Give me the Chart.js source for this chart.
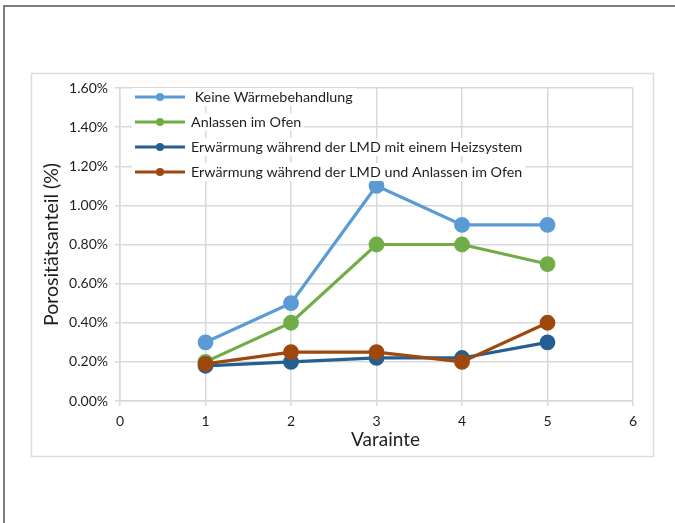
<!DOCTYPE html>
<html>
<head>
<meta charset="utf-8">
<script src="https://cdn.jsdelivr.net/npm/chart.js@4/dist/chart.umd.min.js"></script>
<style>
  html, body { margin: 0; padding: 0; background: #fff; }
  #wrap { position: absolute; left: 0; top: 0; width: 675px; height: 523px; }
</style>
</head>
<body>
<div id="wrap"><canvas id="porosityChart" width="675" height="523"></canvas></div>
<script>
// Porositätsanteil je Variante und Wärmebehandlung
const variants = [1, 2, 3, 4, 5];
const seriesNames = [
  ' Keine Wärmebehandlung',
  'Anlassen im Ofen',
  'Erwärmung während der LMD mit einem Heizsystem',
  'Erwärmung während der LMD und Anlassen im Ofen'
];
const seriesColors = ['#5B9BD5', '#70AD47', '#255E91', '#9E480E'];
const keineWaerme = [0.30, 0.50, 1.10, 0.90, 0.90];
const anlassenOfen = [0.20, 0.40, 0.80, 0.80, 0.70];
const lmdHeizsystem = [0.18, 0.20, 0.22, 0.22, 0.30];
const lmdAnlassen = [0.19, 0.25, 0.25, 0.20, 0.40];
const xMin = 0, xMax = 6, xStep = 1;
const yMin = 0, yMax = 1.6, yStep = 0.2;
const xTitle = 'Varainte';
const yTitle = 'Porositätsanteil (%)';

const FONT = 'Lato, "Noto Sans", sans-serif';
const GRID = '#d9d9d9';
const TEXT = '#1e1e1e';

const seriesValues = [keineWaerme, anlassenOfen, lmdHeizsystem, lmdAnlassen];

function makeDataset(i) {
  return {
    label: seriesNames[i],
    data: variants.map((v, k) => ({ x: v, y: seriesValues[i][k] })),
    borderColor: seriesColors[i],
    backgroundColor: seriesColors[i],
    pointBackgroundColor: seriesColors[i],
    pointBorderColor: seriesColors[i],
    borderWidth: 3.2,
    pointRadius: 6.3,
    pointHoverRadius: 6.3,
    tension: 0,
    // later series lie on top, as in the legend order
    order: seriesNames.length - i
  };
}

// white page, outer frame lines and the light chart box
const framePlugin = {
  id: 'frame',
  beforeDraw(chart) {
    const ctx = chart.ctx;
    ctx.save();
    ctx.fillStyle = '#fff';
    ctx.fillRect(0, 0, chart.width, chart.height);
    ctx.strokeStyle = '#555';
    ctx.lineWidth = 1.5;
    ctx.beginPath();
    ctx.moveTo(4, chart.height);
    ctx.lineTo(4, 6);
    ctx.lineTo(chart.width, 6);
    ctx.stroke();
    ctx.strokeStyle = '#dcdcdc';
    ctx.lineWidth = 1.5;
    ctx.strokeRect(31.5, 73.5, 622, 383);
    ctx.restore();
  },
  // x axis title sits a little right of the plot centre
  afterDraw(chart) {
    const ctx = chart.ctx;
    const xs = chart.scales.x;
    ctx.save();
    ctx.font = '19px ' + FONT;
    ctx.fillStyle = TEXT;
    ctx.textAlign = 'center';
    ctx.textBaseline = 'middle';
    ctx.fillText(xTitle, (xs.left + xs.right) / 2 + 9, xs.bottom - 16);
    ctx.restore();
  }
};

// legend drawn inside the plot, top left
const insideLegend = {
  id: 'insideLegend',
  afterDatasetsDraw(chart) {
    const ctx = chart.ctx;
    const area = chart.chartArea;
    const x0 = area.left + 15;
    const y0 = area.top + 9;
    const rowH = 25;
    ctx.save();
    ctx.font = '14.3px ' + FONT;
    ctx.textBaseline = 'middle';
    chart.data.datasets.forEach((ds, i) => {
      const y = y0 + i * rowH;
      const textW = ctx.measureText(ds.label).width;
      ctx.fillStyle = '#fff';
      ctx.fillRect(x0 - 3, y - 9, 56 + textW + 6, 18);
      ctx.strokeStyle = ds.borderColor;
      ctx.lineWidth = 3;
      ctx.beginPath();
      ctx.moveTo(x0, y);
      ctx.lineTo(x0 + 50, y);
      ctx.stroke();
      ctx.fillStyle = ds.borderColor;
      ctx.beginPath();
      ctx.arc(x0 + 25, y, 4, 0, Math.PI * 2);
      ctx.fill();
      ctx.fillStyle = TEXT;
      ctx.fillText(ds.label, x0 + 56, y);
    });
    ctx.restore();
  }
};

new Chart(document.getElementById('porosityChart'), {
  type: 'line',
  data: { datasets: seriesNames.map((_, i) => makeDataset(i)) },
  options: {
    responsive: false,
    animation: false,
    layout: { padding: { left: 31, top: 88, right: 42, bottom: 67 } },
    plugins: { legend: { display: false }, tooltip: { enabled: false } },
    scales: {
      x: {
        type: 'linear',
        min: xMin,
        max: xMax,
        afterFit(scale) { scale.height = 55; },
        ticks: { stepSize: xStep, color: TEXT, padding: 7, font: { family: FONT, size: 14 } },
        grid: { color: GRID, lineWidth: 1.5, tickLength: 5 },
        border: { color: GRID, width: 1.5 },
        title: { display: false }
      },
      y: {
        min: yMin,
        max: yMax,
        afterFit(scale) { scale.width = 89; },
        ticks: {
          stepSize: yStep,
          color: TEXT,
          padding: 7,
          font: { family: FONT, size: 14 },
          callback: v => v.toFixed(2) + '%'
        },
        grid: { color: GRID, lineWidth: 1.5, tickLength: 5 },
        border: { color: GRID, width: 1.5 },
        title: {
          display: true,
          text: yTitle,
          color: TEXT,
          font: { family: FONT, size: 19.5 },
          padding: { top: 9, bottom: 0 }
        }
      }
    }
  },
  plugins: [framePlugin, insideLegend]
});
</script>
</body>
</html>
